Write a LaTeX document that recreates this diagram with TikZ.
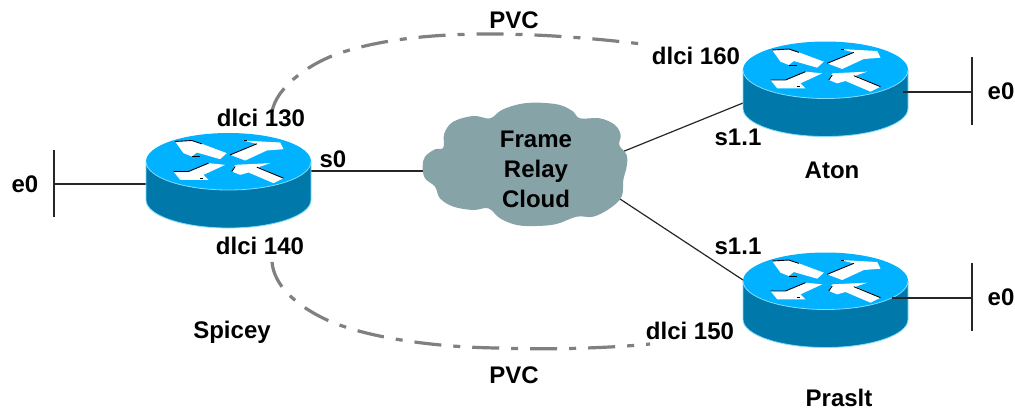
\documentclass[tikz,border=0pt]{standalone}
\usepackage{fontspec}
\setmainfont{Liberation Sans}
\definecolor{rtop}{RGB}{0,178,255}
\definecolor{rside}{RGB}{0,120,170}
\definecolor{redge}{RGB}{130,220,255}
\definecolor{cloudc}{RGB}{134,163,168}
\definecolor{pvcc}{RGB}{128,128,128}
\tikzset{
  lbl/.style={font=\bfseries\fontsize{24}{30}\selectfont,text=black,inner sep=0pt,align=center},
  wire/.style={draw=black!85,line width=1.2pt},
  pvc/.style={draw=pvcc,line width=3.2pt,dash pattern=on 27pt off 12pt on 7pt off 12pt},
  routerbox/.style={minimum width=165pt,minimum height=95pt,inner sep=0pt},
  cloudbox/.style={minimum width=204pt,minimum height=123pt,inner sep=0pt}
}
\newcommand{\routerart}[2]{%
\begin{scope}[shift={(#1,#2)}]
  \fill[rside] (-82.5,0) -- (-82.5,38.5) arc[start angle=180,end angle=0,x radius=82.5,y radius=28] -- (82.5,0) -- cycle;
  \draw[redge,line width=.8pt] (-82.5,0) -- (-82.5,38.5) arc[start angle=180,end angle=0,x radius=82.5,y radius=28] -- (82.5,0);
  \fill[rtop] (0,0) ellipse[x radius=82.5,y radius=28.5];
  \draw[redge,line width=.8pt] (-82.5,0) arc[start angle=180,end angle=0,x radius=82.5,y radius=28.5];
  \begin{scope}[x=.3333pt,y=-.3333pt,shift={(-295,-125)}]
    \fill[white] (135,65) -- (185,62) -- (215,72) -- (290,100) -- (270,118) -- (200,98) -- (185,110) -- (160,100) -- cycle;
    \fill[white] (340,62) -- (450,68) -- (460,88) -- (410,92) -- (345,122) -- (300,105) -- (380,72) -- cycle;
    \fill[white] (130,155) -- (175,155) -- (235,130) -- (285,135) -- (220,165) -- (235,180) -- (150,180) -- cycle;
    \fill[white] (305,155) -- (315,135) -- (420,130) -- (385,142) -- (460,175) -- (430,190) -- (355,158) -- (330,165) -- cycle;
    \draw[black,line width=.9pt] (135,65) -- (185,62) -- (215,72);
    \draw[black,line width=.9pt] (185,110) -- (210,110);
    \draw[black,line width=.9pt] (300,105) -- (380,72);
    \draw[black,line width=.9pt] (340,62) -- (350,62);
    \draw[black,line width=.9pt] (130,155) -- (175,155) -- (235,130);
    \draw[black,line width=.9pt] (208,175) -- (218,175);
    \draw[black,line width=.9pt] (305,155) -- (315,140);
    \draw[black,line width=.9pt] (380,142) -- (460,175);
  \end{scope}
\end{scope}}
\begin{document}
\begin{tikzpicture}[x=1pt,y=-1pt]
\useasboundingbox (0,0) rectangle (1015,413);
% anchors
\node[routerbox] (spicey) at (228.5,180.5) {};
\node[routerbox] (aton) at (825.5,89.5) {};
\node[routerbox] (praslt) at (825.5,299.5) {};
\node[cloudbox] (cloud) at (525,164.5) {};
\coordinate (se0t) at (54,150);
\coordinate (se0b) at (54,217);
\coordinate (se0m) at (54,184);
\coordinate (ae0t) at (972,57);
\coordinate (ae0b) at (972,125);
\coordinate (ae0m) at (972,92);
\coordinate (ae0r) at (903,92);
\coordinate (pe0t) at (972,263);
\coordinate (pe0b) at (972,331);
\coordinate (pe0m) at (972,298);
\coordinate (pe0r) at (892,298);
\coordinate (s0b) at (424,171);
\coordinate (aa) at (622,152);
\coordinate (ab) at (743,103);
\coordinate (pa) at (620,199);
\coordinate (pb) at (743,280);
\coordinate (ta) at (272,112);
\coordinate (tb) at (650,45);
\coordinate (ba) at (272,262);
\coordinate (bb) at (650,344);
% wires
\draw[wire] (se0t) -- (se0b);
\draw[wire] (se0m) -- (spicey.west |- se0m);
\draw[wire] (spicey.east |- s0b) -- (s0b);
\draw[wire] (aa) -- (ab);
\draw[wire] (pa) -- (pb);
% pvc
\draw[pvc] (ta) .. controls (276,87) and (310,63) .. (340,53) .. controls (385,38) and (440,34) .. (490,34) .. controls (550,34) and (610,40) .. (tb);
\draw[pvc] (ba) .. controls (274,285) and (295,305) .. (327,320) .. controls (365,337) and (430,347) .. (497,348) .. controls (550,350) and (610,348) .. (bb);
% cloud
\begin{scope}[shift={(410,100)},x=.3333pt,y=-.3333pt]
\fill[cloudc] plot[smooth cycle,tension=.6] coordinates {(38,200)(45,170)(75,148)(100,143)(103,100)(130,65)(190,48)(240,55)(275,30)(330,12)(385,8)(450,15)(490,35)(510,55)(570,55)(615,75)(632,105)(628,135)(650,165)(650,200)(640,240)(635,290)(600,325)(550,350)(500,350)(440,372)(380,378)(320,375)(270,355)(235,325)(190,330)(130,320)(90,295)(75,260)(45,235)};
\end{scope}
% routers
\routerart{228.5}{161.5}
\routerart{825.5}{70}
\routerart{825.5}{281}
\draw[wire] (ae0t) -- (ae0b);
\draw[wire] (ae0m) -- (ae0r);
\draw[wire] (pe0t) -- (pe0b);
\draw[wire] (pe0m) -- (pe0r);
% labels
\node[lbl] (l1) at (514,20) {PVC};
\node[lbl] (l2) at (514,375) {PVC};
\node[lbl] (l3) at (696,56) {dlci 160};
\node[lbl] (l4) at (261,118) {dlci 130};
\node[lbl] (l5) at (260,246) {dlci 140};
\node[lbl] (l6) at (690,331) {dlci 150};
\node[lbl] (l7) at (333,159) {s0};
\node[lbl] (l8) at (738,137) {s1.1};
\node[lbl] (l9) at (738,246) {s1.1};
\node[lbl] (l10) at (25,184) {e0};
\node[lbl] (l11) at (1001,91) {e0};
\node[lbl] (l12) at (1001,297) {e0};
\node[lbl] (l13) at (232,332) {Spicey};
\node[lbl] (l14) at (832,170) {Aton};
\node[lbl] (l15) at (839,398) {Praslt};
\node[lbl] (l16) at (536,169) {Frame\\Relay\\Cloud};
\end{tikzpicture}
\end{document}
